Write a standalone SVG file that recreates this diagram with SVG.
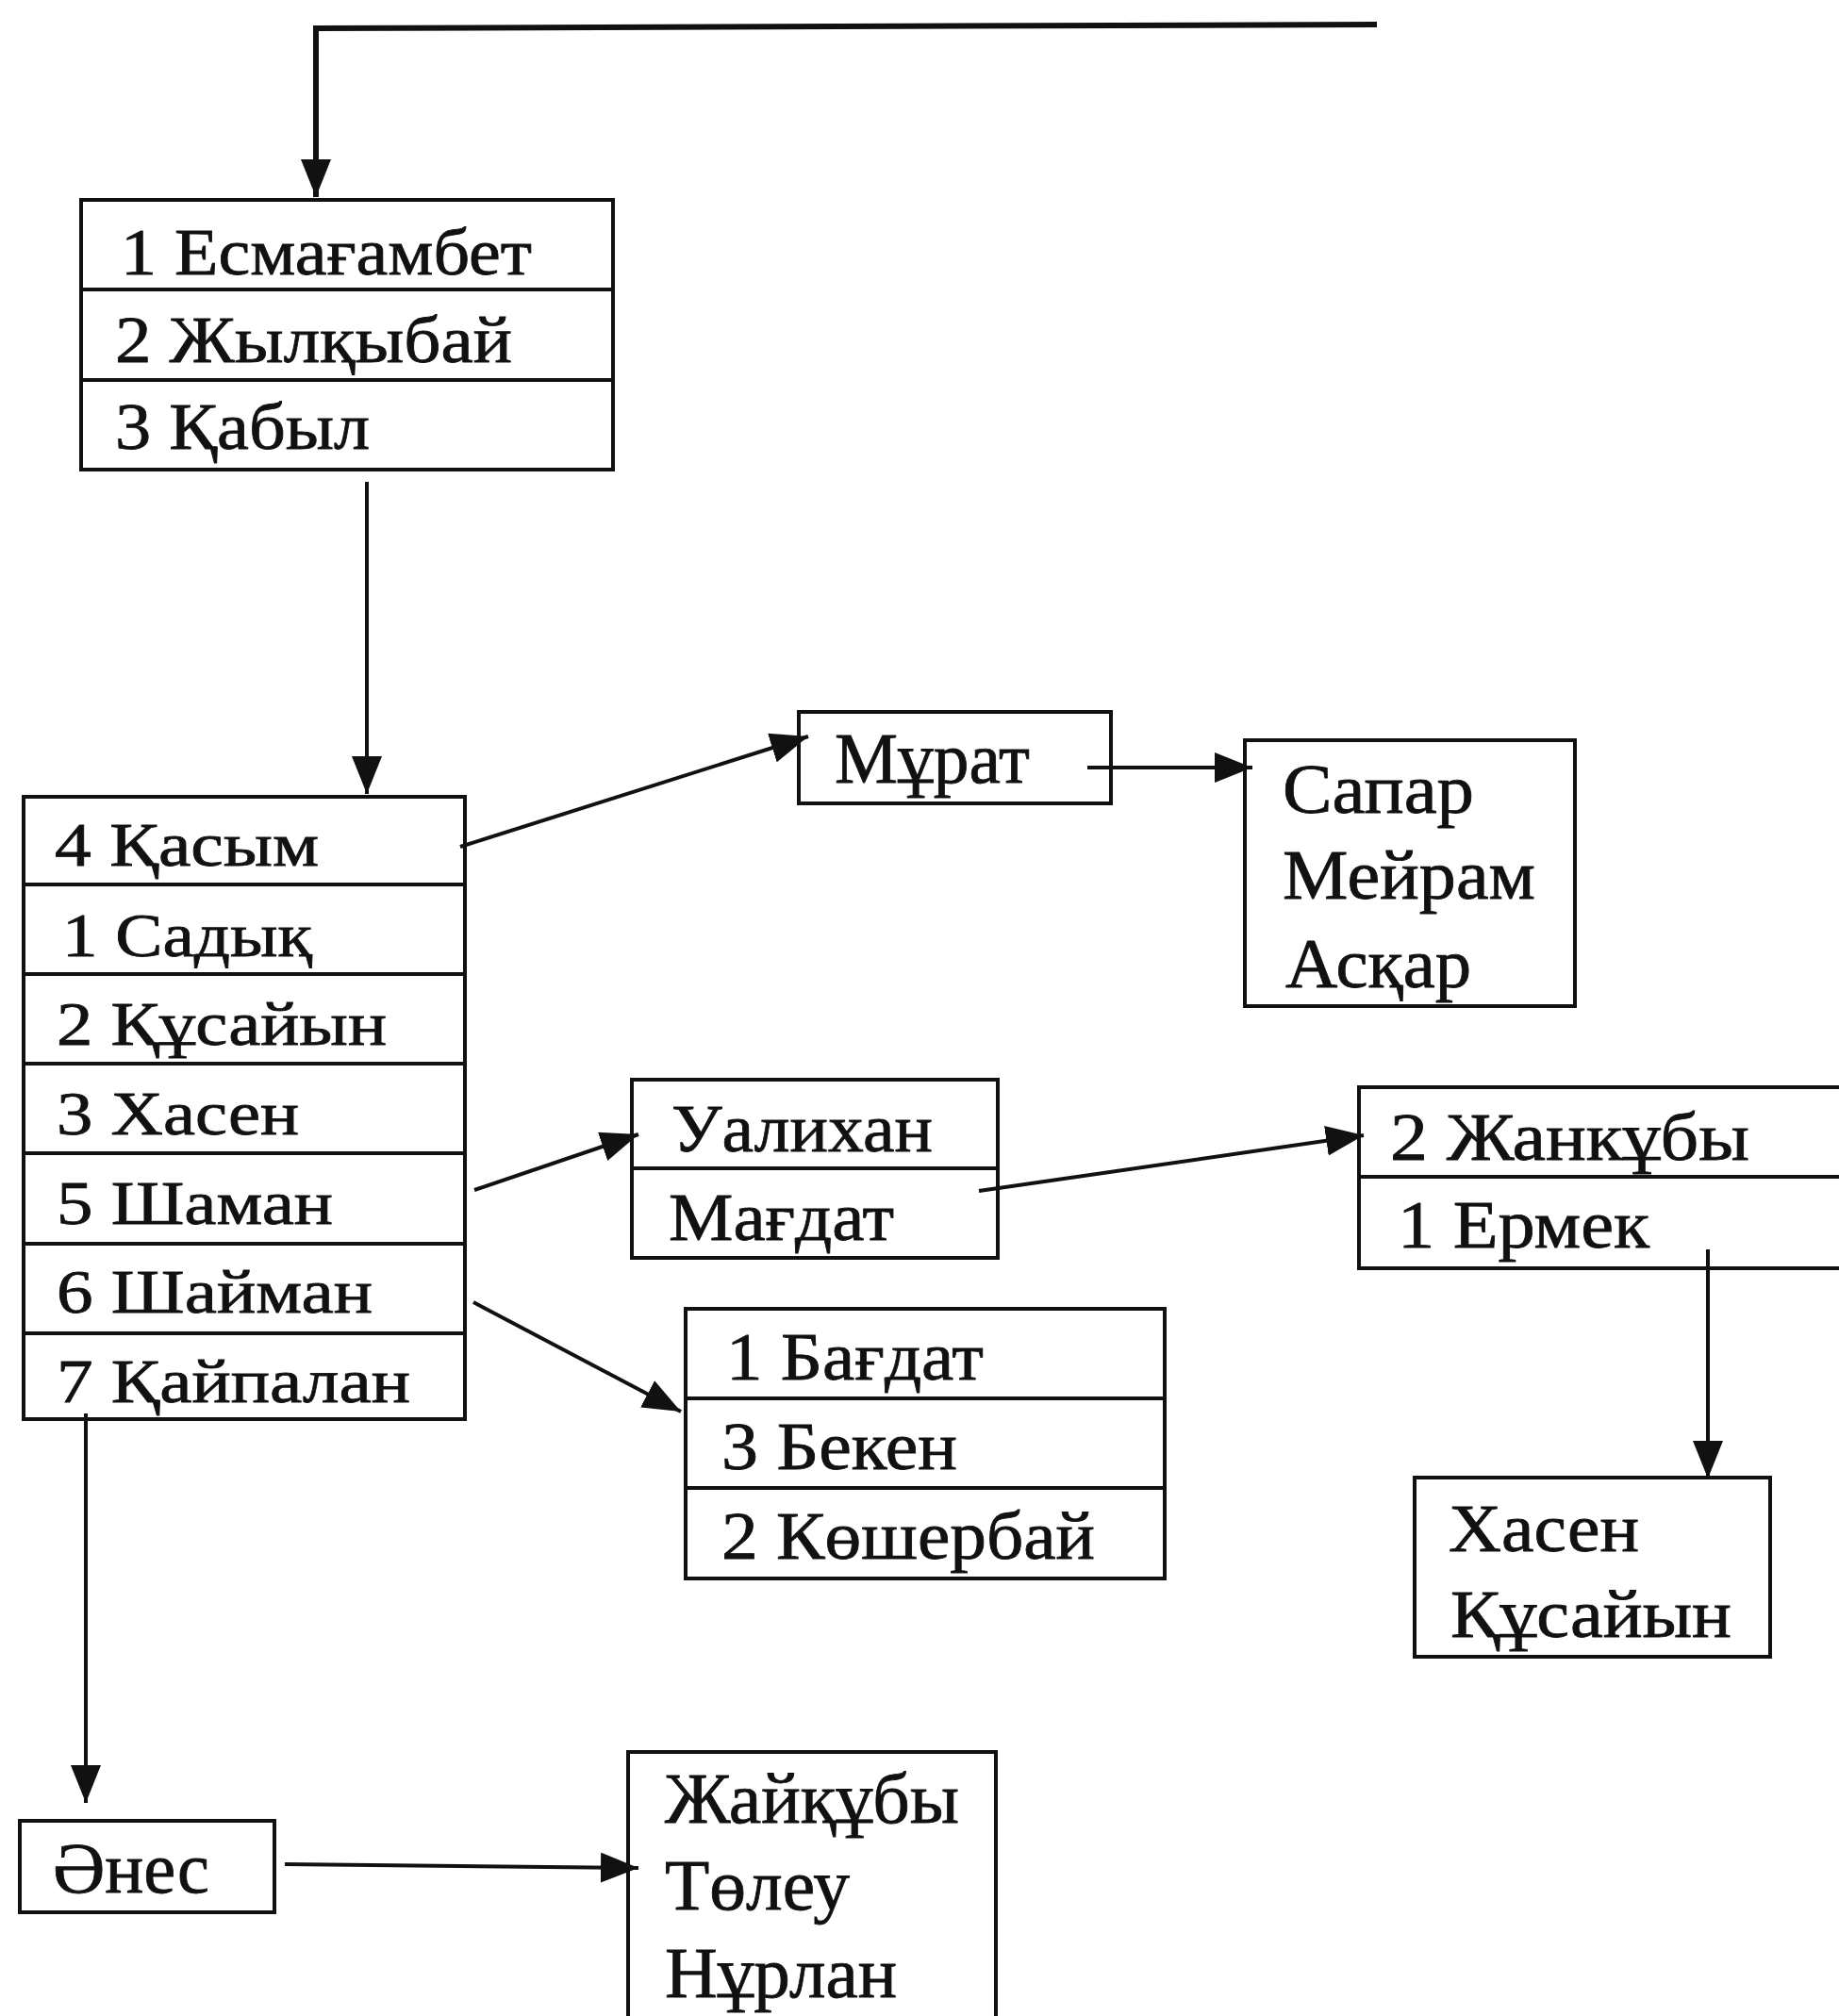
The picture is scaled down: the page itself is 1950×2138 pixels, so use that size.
<svg xmlns="http://www.w3.org/2000/svg" width="1950" height="2138" viewBox="0 0 1950 2138">
<style>
.bx{fill:none;stroke:#111;stroke-width:4}
.dv{stroke:#111;stroke-width:4}
.cn{fill:none;stroke:#111;stroke-width:4}
.t{font-family:"Liberation Serif","DejaVu Serif",serif;fill:#111;stroke:#111;stroke-width:0.8}
</style>
<defs>
<marker id="ah" markerUnits="userSpaceOnUse" markerWidth="40" markerHeight="32" refX="40" refY="16" orient="auto">
<path d="M0,0 L40,16 L0,32 Z" fill="#111"/>
</marker>
</defs>
<rect width="1950" height="2138" fill="#fff"/>

<g id="connectors">
<polyline class="cn" style="stroke-width:6" points="1460,26 335,30 335,209" marker-end="url(#ah)"/>
<line class="cn" x1="389" y1="511" x2="389" y2="842" marker-end="url(#ah)"/>
<line class="cn" x1="488" y1="898" x2="857" y2="781" marker-end="url(#ah)"/>
<line class="cn" x1="1153" y1="814" x2="1328" y2="814" marker-end="url(#ah)"/>
<line class="cn" x1="503" y1="1262" x2="677" y2="1203" marker-end="url(#ah)"/>
<line class="cn" x1="1038" y1="1263" x2="1446" y2="1204" marker-end="url(#ah)"/>
<line class="cn" x1="502" y1="1381" x2="722" y2="1497" marker-end="url(#ah)"/>
<line class="cn" x1="1811" y1="1325" x2="1811" y2="1568" marker-end="url(#ah)"/>
<line class="cn" x1="91" y1="1499" x2="91" y2="1912" marker-end="url(#ah)"/>
<line class="cn" x1="302" y1="1977" x2="677" y2="1981" marker-end="url(#ah)"/>
</g>

<g id="n-top">
<rect class="bx" x="86" y="212" width="564" height="286"/>
<line class="dv" x1="86" y1="307" x2="650" y2="307"/>
<line class="dv" x1="86" y1="403" x2="650" y2="403"/>
<text class="t" x="128" y="291" font-size="70" textLength="436" lengthAdjust="spacingAndGlyphs">1 Есмағамбет</text>
<text class="t" x="122" y="384" font-size="70" textLength="421" lengthAdjust="spacingAndGlyphs">2 Жылқыбай</text>
<text class="t" x="122" y="476" font-size="70" textLength="270" lengthAdjust="spacingAndGlyphs">3 Қабыл</text>
</g>

<g id="n-main">
<rect class="bx" x="25" y="845" width="468" height="660"/>
<line class="dv" x1="25" y1="938" x2="493" y2="938"/>
<line class="dv" x1="25" y1="1033" x2="493" y2="1033"/>
<line class="dv" x1="25" y1="1128" x2="493" y2="1128"/>
<line class="dv" x1="25" y1="1223" x2="493" y2="1223"/>
<line class="dv" x1="25" y1="1319" x2="493" y2="1319"/>
<line class="dv" x1="25" y1="1414" x2="493" y2="1414"/>
<text class="t" x="58" y="918" font-size="66" textLength="280" lengthAdjust="spacingAndGlyphs">4 Қасым</text>
<text class="t" x="66" y="1014" font-size="66" textLength="265" lengthAdjust="spacingAndGlyphs">1 Садық</text>
<text class="t" x="60" y="1108" font-size="66" textLength="350" lengthAdjust="spacingAndGlyphs">2 Құсайын</text>
<text class="t" x="60" y="1203" font-size="66" textLength="257" lengthAdjust="spacingAndGlyphs">3 Хасен</text>
<text class="t" x="60" y="1298" font-size="66" textLength="293" lengthAdjust="spacingAndGlyphs">5 Шаман</text>
<text class="t" x="60" y="1392" font-size="66" textLength="335" lengthAdjust="spacingAndGlyphs">6 Шайман</text>
<text class="t" x="60" y="1487" font-size="66" textLength="375" lengthAdjust="spacingAndGlyphs">7 Қайпалан</text>
</g>

<g id="n-murat">
<rect class="bx" x="847" y="755" width="331" height="97"/>
<text class="t" x="885" y="830" font-size="76" textLength="207" lengthAdjust="spacingAndGlyphs">Мұрат</text>
</g>

<g id="n-sapar">
<rect class="bx" x="1320" y="785" width="350" height="282"/>
<text class="t" x="1360" y="862" font-size="73" textLength="203" lengthAdjust="spacingAndGlyphs">Сапар</text>
<text class="t" x="1360" y="953" font-size="73" textLength="268" lengthAdjust="spacingAndGlyphs">Мейрам</text>
<text class="t" x="1363" y="1047" font-size="73" textLength="197" lengthAdjust="spacingAndGlyphs">Асқар</text>
</g>

<g id="n-uali">
<rect class="bx" x="670" y="1145" width="388" height="189"/>
<line class="dv" x1="670" y1="1239" x2="1058" y2="1239"/>
<text class="t" x="712" y="1221" font-size="72" textLength="277" lengthAdjust="spacingAndGlyphs">Уалихан</text>
<text class="t" x="709" y="1315" font-size="72" textLength="239" lengthAdjust="spacingAndGlyphs">Мағдат</text>
</g>

<g id="n-zhankuby">
<rect class="bx" x="1441" y="1153" width="530" height="192"/>
<line class="dv" x1="1441" y1="1248" x2="1971" y2="1248"/>
<text class="t" x="1474" y="1230" font-size="72" textLength="381" lengthAdjust="spacingAndGlyphs">2 Жанкұбы</text>
<text class="t" x="1482" y="1323" font-size="72" textLength="267" lengthAdjust="spacingAndGlyphs">1 Ермек</text>
</g>

<g id="n-bagdat">
<rect class="bx" x="727" y="1388" width="508" height="286"/>
<line class="dv" x1="727" y1="1483" x2="1235" y2="1483"/>
<line class="dv" x1="727" y1="1578" x2="1235" y2="1578"/>
<text class="t" x="770" y="1463" font-size="72" textLength="273" lengthAdjust="spacingAndGlyphs">1 Бағдат</text>
<text class="t" x="765" y="1558" font-size="72" textLength="250" lengthAdjust="spacingAndGlyphs">3 Бекен</text>
<text class="t" x="765" y="1653" font-size="72" textLength="396" lengthAdjust="spacingAndGlyphs">2 Көшербай</text>
</g>

<g id="n-hasen">
<rect class="bx" x="1500" y="1567" width="377" height="190"/>
<text class="t" x="1536" y="1645" font-size="72" textLength="202" lengthAdjust="spacingAndGlyphs">Хасен</text>
<text class="t" x="1538" y="1736" font-size="72" textLength="298" lengthAdjust="spacingAndGlyphs">Құсайын</text>
</g>

<g id="n-anes">
<rect class="bx" x="21" y="1931" width="270" height="97"/>
<text class="t" x="56" y="2007" font-size="76" textLength="166" lengthAdjust="spacingAndGlyphs">Әнес</text>
</g>

<g id="n-zhaykuby">
<rect class="bx" x="666" y="1858" width="390" height="290"/>
<text class="t" x="705" y="1933" font-size="76" textLength="312" lengthAdjust="spacingAndGlyphs">Жайқұбы</text>
<text class="t" x="705" y="2025" font-size="76" textLength="196" lengthAdjust="spacingAndGlyphs">Төлеу</text>
<text class="t" x="705" y="2118" font-size="76" textLength="246" lengthAdjust="spacingAndGlyphs">Нұрлан</text>
</g>
</svg>
